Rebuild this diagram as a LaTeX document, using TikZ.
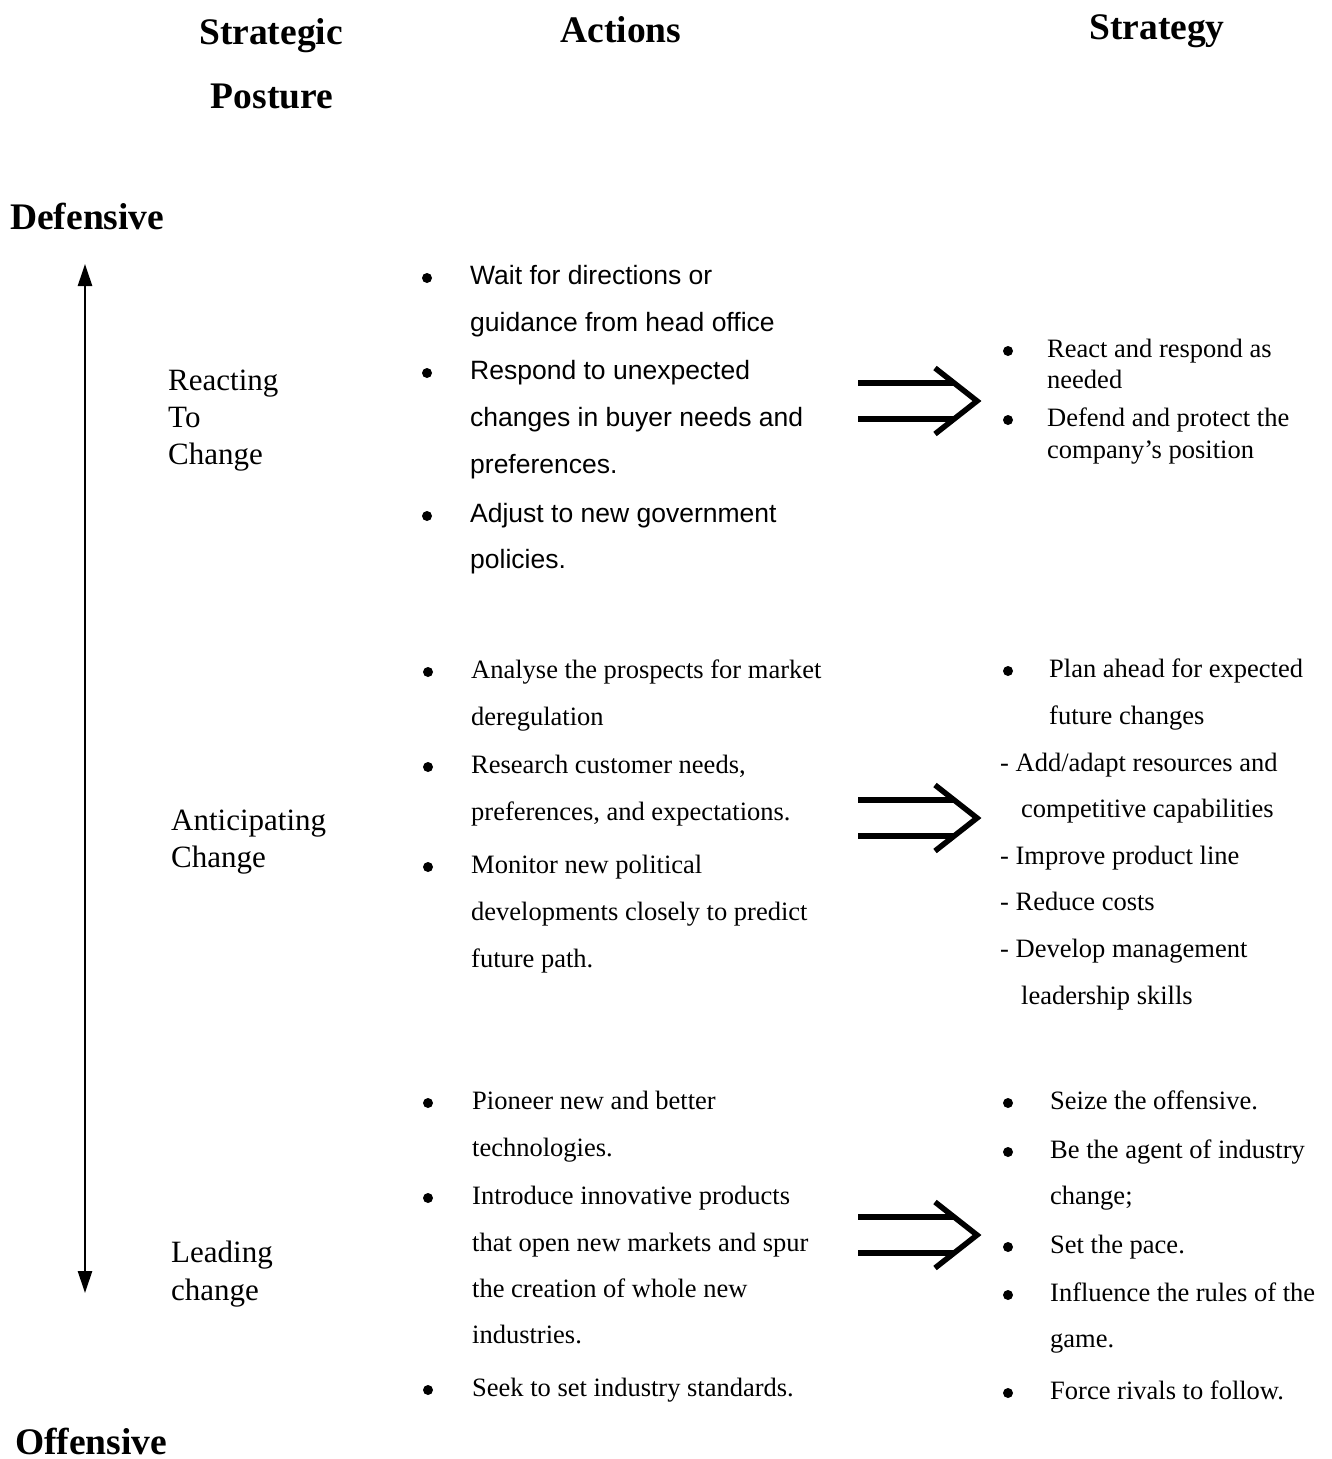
\documentclass[tikz,border=0pt]{standalone}
\usepackage{fontspec}
\setmainfont{Liberation Serif}
\newfontfamily\arialf{Liberation Sans}
\usetikzlibrary{arrows.meta}
\begin{document}
\begin{tikzpicture}[x=1pt,y=-1pt,
  act/.style={anchor=west, inner sep=0, font=\arialf\fontsize{26.5}{30}\selectfont, text height=24, text depth=6},
  ser/.style={anchor=west, inner sep=0, font=\fontsize{26.5}{30}\selectfont, text height=24, text depth=6},
  lab/.style={anchor=west, inner sep=0, font=\fontsize{31}{34}\selectfont, text height=29, text depth=8},
  head/.style={inner sep=0, font=\bfseries\fontsize{37.5}{40}\selectfont, text height=33, text depth=8},
  bul/.style={circle, fill=black, inner sep=0, minimum size=10},
  axis/.style={line width=2.6, {Triangle[length=22,width=14]}-{Triangle[length=22,width=14]}},
  dbl/.style={line width=5.5},
]
\useasboundingbox (0,0) rectangle (1331,1459);

% headings
\node[head] (h1) at (271,32) {Strategic};
\node[head] (h2) at (272,96) {Posture};
\node[head] (h3) at (621,30) {Actions};
\node[head] (h4) at (1157,27) {Strategy};
\node[head,anchor=west] (def) at (10,217) {Defensive};
\node[head,anchor=west,text depth=0] (off) at (15,1438) {Offensive};

% vertical axis
\coordinate (axtop) at (85,264);
\coordinate (axbot) at (85,1293);
\draw[axis] (axtop) -- (axbot);

% posture labels
\node[lab] (r1) at (168,380) {Reacting};
\node[lab] (r2) at (168,417) {To};
\node[lab] (r3) at (168,454) {Change};
\node[lab] (an1) at (171,820) {Anticipating};
\node[lab] (an2) at (171,857) {Change};
\node[lab] (l1) at (171,1252) {Leading};
\node[lab] (l2) at (171,1290) {change};

% actions block 1
\node[bul] (ab1) at (427,278) {};
\node[act] (a11) at (470,275) {Wait for directions or};
\node[act] (a12) at (470,322) {guidance from head office};
\node[bul] (ab2) at (427,373) {};
\node[act] (a13) at (470,370) {Respond to unexpected};
\node[act] (a14) at (470,417) {changes in buyer needs and};
\node[act] (a15) at (470,464) {preferences.};
\node[bul] (ab3) at (427,516) {};
\node[act] (a16) at (470,513) {Adjust to new government};
\node[act] (a17) at (470,559) {policies.};

% strategy block 1
\node[bul] (sb1) at (1008,351) {};
\node[ser] (s11) at (1047,348) {React and respond as};
\node[ser] (s12) at (1047,379) {needed};
\node[bul] (sb2) at (1008,420) {};
\node[ser] (s13) at (1047,417) {Defend and protect the};
\node[ser] (s14) at (1047,449) {company’s position};

% actions block 2
\node[bul] (bb1) at (428,672) {};
\node[ser] (a21) at (471,669) {Analyse the prospects for market};
\node[ser] (a22) at (471,716) {deregulation};
\node[bul] (bb2) at (428,767) {};
\node[ser] (a23) at (471,764) {Research customer needs,};
\node[ser] (a24) at (471,811) {preferences, and expectations.};
\node[bul] (bb3) at (428,867) {};
\node[ser] (a25) at (471,864) {Monitor new political};
\node[ser] (a26) at (471,911) {developments closely to predict};
\node[ser] (a27) at (471,958) {future path.};

% strategy block 2
\node[bul] (tb1) at (1008,671) {};
\node[ser] (s21) at (1049,668) {Plan ahead for expected};
\node[ser] (s22) at (1049,715) {future changes};
\node[ser] (s23) at (1000,762) {- Add/adapt resources and};
\node[ser] (s24) at (1021,808) {competitive capabilities};
\node[ser] (s25) at (1000,855) {- Improve product line};
\node[ser] (s26) at (1000,901) {- Reduce costs};
\node[ser] (s27) at (1000,948) {- Develop management};
\node[ser] (s28) at (1021,995) {leadership skills};

% actions block 3
\node[bul] (cb1) at (428,1103) {};
\node[ser] (a31) at (472,1100) {Pioneer new and better};
\node[ser] (a32) at (472,1147) {technologies.};
\node[bul] (cb2) at (428,1198) {};
\node[ser] (a33) at (472,1195) {Introduce innovative products};
\node[ser] (a34) at (472,1242) {that open new markets and spur};
\node[ser] (a35) at (472,1288) {the creation of whole new};
\node[ser] (a36) at (472,1334) {industries.};
\node[bul] (cb3) at (428,1390) {};
\node[ser] (a37) at (472,1387) {Seek to set industry standards.};

% strategy block 3
\node[bul] (ub1) at (1008,1103) {};
\node[ser] (s31) at (1050,1100) {Seize the offensive.};
\node[bul] (ub2) at (1008,1152) {};
\node[ser] (s32) at (1050,1149) {Be the agent of industry};
\node[ser] (s33) at (1050,1195) {change;};
\node[bul] (ub3) at (1008,1247) {};
\node[ser] (s34) at (1050,1244) {Set the pace.};
\node[bul] (ub4) at (1008,1295) {};
\node[ser] (s35) at (1050,1292) {Influence the rules of the};
\node[ser] (s36) at (1050,1338) {game.};
\node[bul] (ub5) at (1008,1393) {};
\node[ser] (s37) at (1050,1390) {Force rivals to follow.};

% double arrows (implies)
\foreach \n/\yy in {1/401, 2/818, 3/1235}{
  \coordinate (ds\n) at (858,\yy);
  \coordinate (de\n) at (977,\yy);
  \draw[dbl] ([yshift=18]ds\n) -- ([xshift=-22,yshift=18]de\n);
  \draw[dbl] ([yshift=-18]ds\n) -- ([xshift=-22,yshift=-18]de\n);
  \draw[dbl, line join=miter] ([xshift=-42,yshift=33]de\n) -- (de\n) -- ([xshift=-42,yshift=-33]de\n);
}
\end{tikzpicture}
\end{document}
